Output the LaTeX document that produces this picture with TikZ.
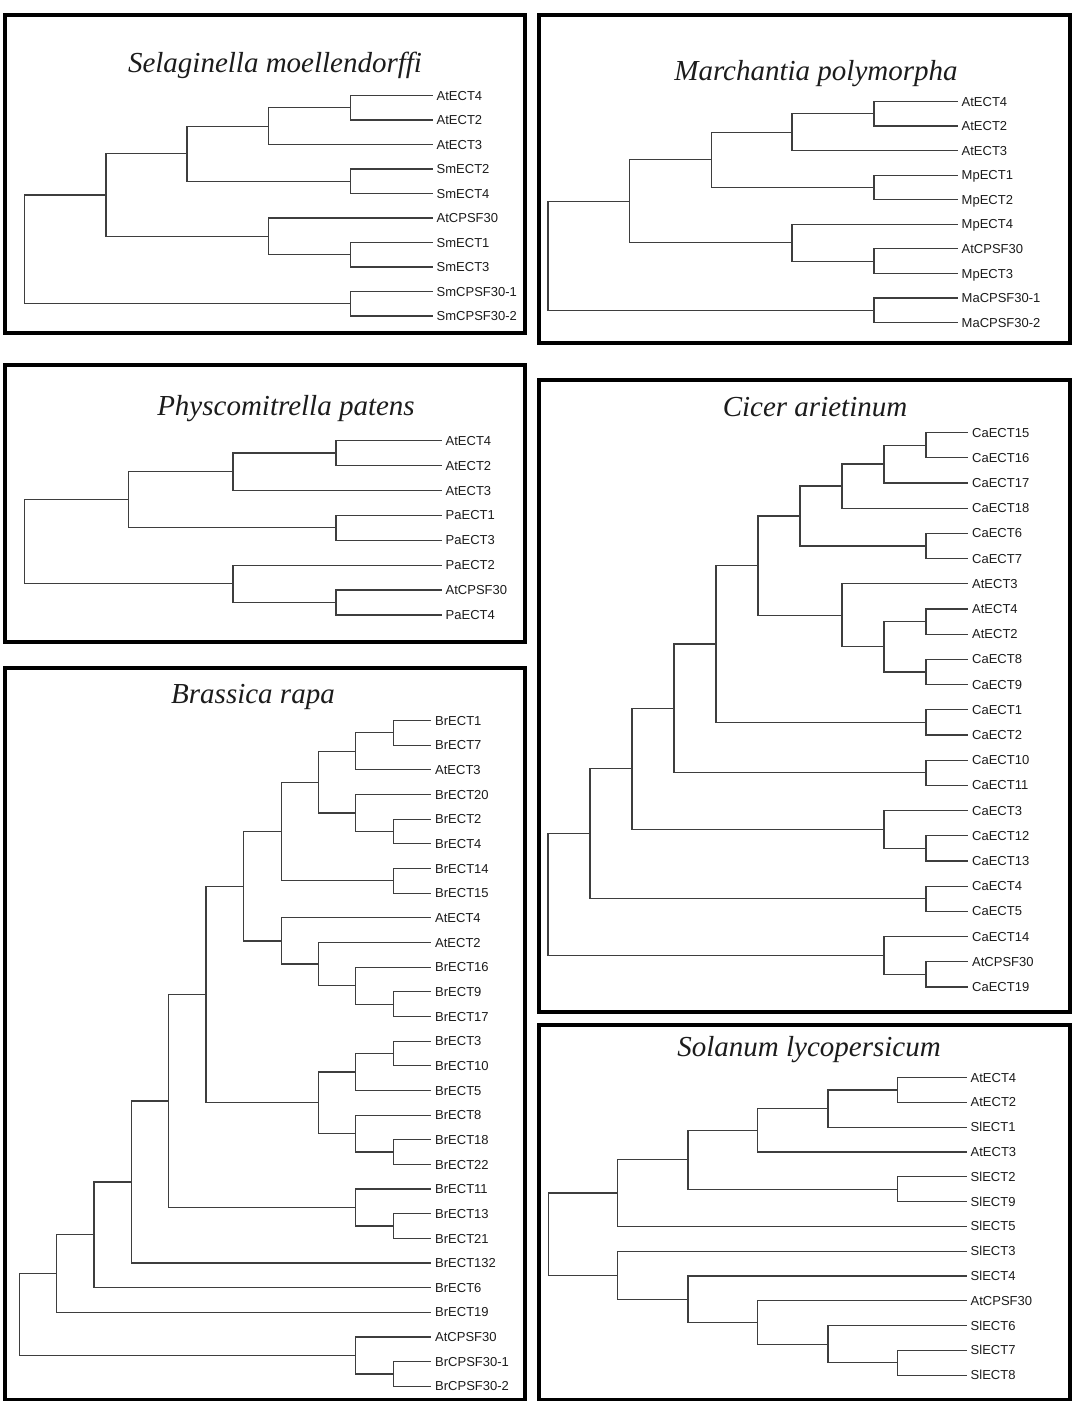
\documentclass[tikz,border=0pt]{standalone}
\usepackage{fontspec}
\usepackage{xcolor}
\usepackage{tikz}
\newfontfamily\labelfont{Liberation Sans}
\newfontfamily\speciesfont{Liberation Serif}
\definecolor{treegray}{RGB}{62, 62, 62}
\definecolor{textgray}{RGB}{28, 28, 28}
\tikzset{
  leaf/.style={anchor=west, inner xsep=4.5pt, inner ysep=0pt, text height=9.3pt, text depth=0pt, text=textgray, font=\labelfont\fontsize{13}{13}\selectfont},
  branch/.style={draw=treegray, line width=1.2pt, line cap=rect},
  panel/.style={draw=black, line width=3.6pt},
  species/.style={anchor=base, text=textgray, font=\speciesfont\itshape\fontsize{29}{29}\selectfont}
}

\begin{document}
\begin{tikzpicture}[x=1pt, y=-1pt]
    \useasboundingbox[fill=white] (0,0) rectangle (1080,1401);

    % Selaginella
    \draw[panel] (5,15) rectangle (525,333);
    \node[species] (smT) at (275,72) {Selaginella moellendorffi};
    \node[leaf] (sm1) at (432,95.5) {AtECT4};
    \node[leaf] (sm2) at (432,120) {AtECT2};
    \node[leaf] (sm3) at (432,144.5) {AtECT3};
    \node[leaf] (sm4) at (432,169) {SmECT2};
    \node[leaf] (sm5) at (432,193.5) {SmECT4};
    \node[leaf] (sm6) at (432,218) {AtCPSF30};
    \node[leaf] (sm7) at (432,242.5) {SmECT1};
    \node[leaf] (sm8) at (432,267) {SmECT3};
    \node[leaf] (sm9) at (432,291.5) {SmCPSF30-1};
    \node[leaf] (sm10) at (432,316) {SmCPSF30-2};
    \coordinate (smA) at (350.5,107.75);
    \coordinate (smB) at (268.5,126.1);
    \coordinate (smC) at (350.5,181.25);
    \coordinate (smD) at (187,153.7);
    \coordinate (smE) at (350.5,254.75);
    \coordinate (smF) at (268.5,236.4);
    \coordinate (smG) at (106,195.05);
    \coordinate (smH) at (350.5,303.75);
    \coordinate (smR) at (24.5,249.4);
    \draw[branch] (smA) |- (sm1.west) (smA) |- (sm2.west);
    \draw[branch] (smB) |- (smA) (smB) |- (sm3.west);
    \draw[branch] (smC) |- (sm4.west) (smC) |- (sm5.west);
    \draw[branch] (smD) |- (smB) (smD) |- (smC);
    \draw[branch] (smE) |- (sm7.west) (smE) |- (sm8.west);
    \draw[branch] (smF) |- (sm6.west) (smF) |- (smE);
    \draw[branch] (smG) |- (smD) (smG) |- (smF);
    \draw[branch] (smH) |- (sm9.west) (smH) |- (sm10.west);
    \draw[branch] (smR) |- (smG) (smR) |- (smH);

    % Marchantia
    \draw[panel] (539,15) rectangle (1070,343);
    \node[species] (mpT) at (816,80) {Marchantia polymorpha};
    \node[leaf] (mp1) at (957,101.5) {AtECT4};
    \node[leaf] (mp2) at (957,126) {AtECT2};
    \node[leaf] (mp3) at (957,150.6) {AtECT3};
    \node[leaf] (mp4) at (957,175.2) {MpECT1};
    \node[leaf] (mp5) at (957,199.7) {MpECT2};
    \node[leaf] (mp6) at (957,224.3) {MpECT4};
    \node[leaf] (mp7) at (957,248.8) {AtCPSF30};
    \node[leaf] (mp8) at (957,273.4) {MpECT3};
    \node[leaf] (mp9) at (957,297.9) {MaCPSF30-1};
    \node[leaf] (mp10) at (957,322.5) {MaCPSF30-2};
    \coordinate (mpA) at (874,113.75);
    \coordinate (mpB) at (792,132.2);
    \coordinate (mpC) at (874,187.45);
    \coordinate (mpD) at (711.5,159.8);
    \coordinate (mpE) at (874,261.1);
    \coordinate (mpF) at (792,242.7);
    \coordinate (mpG) at (629.5,201.25);
    \coordinate (mpH) at (874,310.2);
    \coordinate (mpR) at (548,255.7);
    \draw[branch] (mpA) |- (mp1.west) (mpA) |- (mp2.west);
    \draw[branch] (mpB) |- (mpA) (mpB) |- (mp3.west);
    \draw[branch] (mpC) |- (mp4.west) (mpC) |- (mp5.west);
    \draw[branch] (mpD) |- (mpB) (mpD) |- (mpC);
    \draw[branch] (mpE) |- (mp7.west) (mpE) |- (mp8.west);
    \draw[branch] (mpF) |- (mp6.west) (mpF) |- (mpE);
    \draw[branch] (mpG) |- (mpD) (mpG) |- (mpF);
    \draw[branch] (mpH) |- (mp9.west) (mpH) |- (mp10.west);
    \draw[branch] (mpR) |- (mpG) (mpR) |- (mpH);

    % Physcomitrella
    \draw[panel] (5,365) rectangle (525,642);
    \node[species] (ppT) at (286,415) {Physcomitrella patens};
    \node[leaf] (pp1) at (441,440.5) {AtECT4};
    \node[leaf] (pp2) at (441,465.4) {AtECT2};
    \node[leaf] (pp3) at (441,490.4) {AtECT3};
    \node[leaf] (pp4) at (441,515.3) {PaECT1};
    \node[leaf] (pp5) at (441,540.2) {PaECT3};
    \node[leaf] (pp6) at (441,565.1) {PaECT2};
    \node[leaf] (pp7) at (441,590) {AtCPSF30};
    \node[leaf] (pp8) at (441,615) {PaECT4};
    \coordinate (ppA) at (336,452.95);
    \coordinate (ppB) at (233,471.7);
    \coordinate (ppC) at (336,527.75);
    \coordinate (ppD) at (128.5,499.7);
    \coordinate (ppE) at (336,602.5);
    \coordinate (ppF) at (233,583.8);
    \coordinate (ppR) at (24.5,541.75);
    \draw[branch] (ppA) |- (pp1.west) (ppA) |- (pp2.west);
    \draw[branch] (ppB) |- (ppA) (ppB) |- (pp3.west);
    \draw[branch] (ppC) |- (pp4.west) (ppC) |- (pp5.west);
    \draw[branch] (ppD) |- (ppB) (ppD) |- (ppC);
    \draw[branch] (ppE) |- (pp7.west) (ppE) |- (pp8.west);
    \draw[branch] (ppF) |- (pp6.west) (ppF) |- (ppE);
    \draw[branch] (ppR) |- (ppD) (ppR) |- (ppF);

    % Cicer
    \draw[panel] (539,380) rectangle (1070,1012);
    \node[species] (caT) at (815,416.5) {Cicer arietinum};
    \node[leaf] (ca1) at (967.5,432.5) {CaECT15};
    \node[leaf] (ca2) at (967.5,457.7) {CaECT16};
    \node[leaf] (ca3) at (967.5,482.9) {CaECT17};
    \node[leaf] (ca4) at (967.5,508.1) {CaECT18};
    \node[leaf] (ca5) at (967.5,533.3) {CaECT6};
    \node[leaf] (ca6) at (967.5,558.5) {CaECT7};
    \node[leaf] (ca7) at (967.5,583.7) {AtECT3};
    \node[leaf] (ca8) at (967.5,608.9) {AtECT4};
    \node[leaf] (ca9) at (967.5,634.1) {AtECT2};
    \node[leaf] (ca10) at (967.5,659.3) {CaECT8};
    \node[leaf] (ca11) at (967.5,684.5) {CaECT9};
    \node[leaf] (ca12) at (967.5,709.7) {CaECT1};
    \node[leaf] (ca13) at (967.5,734.9) {CaECT2};
    \node[leaf] (ca14) at (967.5,760.1) {CaECT10};
    \node[leaf] (ca15) at (967.5,785.3) {CaECT11};
    \node[leaf] (ca16) at (967.5,810.5) {CaECT3};
    \node[leaf] (ca17) at (967.5,835.7) {CaECT12};
    \node[leaf] (ca18) at (967.5,860.9) {CaECT13};
    \node[leaf] (ca19) at (967.5,886.1) {CaECT4};
    \node[leaf] (ca20) at (967.5,911.3) {CaECT5};
    \node[leaf] (ca21) at (967.5,936.5) {CaECT14};
    \node[leaf] (ca22) at (967.5,961.7) {AtCPSF30};
    \node[leaf] (ca23) at (967.5,986.9) {CaECT19};
    \coordinate (caA) at (926,445.1);
    \coordinate (caB) at (884,464);
    \coordinate (caC) at (842,486.05);
    \coordinate (caD) at (926,545.9);
    \coordinate (caE) at (800,516);
    \coordinate (caF) at (926,621.5);
    \coordinate (caG) at (926,671.9);
    \coordinate (caH) at (884,646.7);
    \coordinate (caI) at (842,615.2);
    \coordinate (caJ) at (758,565.6);
    \coordinate (caK) at (926,722.3);
    \coordinate (caL) at (716,643.95);
    \coordinate (caM) at (926,772.7);
    \coordinate (caN) at (674,708.3);
    \coordinate (caO) at (926,848.3);
    \coordinate (caP) at (884,829.4);
    \coordinate (caQ) at (632,768.85);
    \coordinate (caS) at (926,898.7);
    \coordinate (caU) at (590,833.8);
    \coordinate (caV) at (926,974.3);
    \coordinate (caW) at (884,955.4);
    \coordinate (caR) at (548,894.6);
    \draw[branch] (caA) |- (ca1.west) (caA) |- (ca2.west);
    \draw[branch] (caB) |- (caA) (caB) |- (ca3.west);
    \draw[branch] (caC) |- (caB) (caC) |- (ca4.west);
    \draw[branch] (caD) |- (ca5.west) (caD) |- (ca6.west);
    \draw[branch] (caE) |- (caC) (caE) |- (caD);
    \draw[branch] (caF) |- (ca8.west) (caF) |- (ca9.west);
    \draw[branch] (caG) |- (ca10.west) (caG) |- (ca11.west);
    \draw[branch] (caH) |- (caF) (caH) |- (caG);
    \draw[branch] (caI) |- (ca7.west) (caI) |- (caH);
    \draw[branch] (caJ) |- (caE) (caJ) |- (caI);
    \draw[branch] (caK) |- (ca12.west) (caK) |- (ca13.west);
    \draw[branch] (caL) |- (caJ) (caL) |- (caK);
    \draw[branch] (caM) |- (ca14.west) (caM) |- (ca15.west);
    \draw[branch] (caN) |- (caL) (caN) |- (caM);
    \draw[branch] (caO) |- (ca17.west) (caO) |- (ca18.west);
    \draw[branch] (caP) |- (ca16.west) (caP) |- (caO);
    \draw[branch] (caQ) |- (caN) (caQ) |- (caP);
    \draw[branch] (caS) |- (ca19.west) (caS) |- (ca20.west);
    \draw[branch] (caU) |- (caQ) (caU) |- (caS);
    \draw[branch] (caV) |- (ca22.west) (caV) |- (ca23.west);
    \draw[branch] (caW) |- (ca21.west) (caW) |- (caV);
    \draw[branch] (caR) |- (caU) (caR) |- (caW);

    % Brassica
    \draw[panel] (5,668) rectangle (525,1400);
    \node[species] (brT) at (253,703) {Brassica rapa};
    \node[leaf] (br1) at (430.5,720.5) {BrECT1};
    \node[leaf] (br2) at (430.5,745.2) {BrECT7};
    \node[leaf] (br3) at (430.5,769.8) {AtECT3};
    \node[leaf] (br4) at (430.5,794.5) {BrECT20};
    \node[leaf] (br5) at (430.5,819.1) {BrECT2};
    \node[leaf] (br6) at (430.5,843.8) {BrECT4};
    \node[leaf] (br7) at (430.5,868.5) {BrECT14};
    \node[leaf] (br8) at (430.5,893.1) {BrECT15};
    \node[leaf] (br9) at (430.5,917.8) {AtECT4};
    \node[leaf] (br10) at (430.5,942.4) {AtECT2};
    \node[leaf] (br11) at (430.5,967.1) {BrECT16};
    \node[leaf] (br12) at (430.5,991.8) {BrECT9};
    \node[leaf] (br13) at (430.5,1016.4) {BrECT17};
    \node[leaf] (br14) at (430.5,1041.1) {BrECT3};
    \node[leaf] (br15) at (430.5,1065.7) {BrECT10};
    \node[leaf] (br16) at (430.5,1090.4) {BrECT5};
    \node[leaf] (br17) at (430.5,1115.1) {BrECT8};
    \node[leaf] (br18) at (430.5,1139.7) {BrECT18};
    \node[leaf] (br19) at (430.5,1164.4) {BrECT22};
    \node[leaf] (br20) at (430.5,1189) {BrECT11};
    \node[leaf] (br21) at (430.5,1213.7) {BrECT13};
    \node[leaf] (br22) at (430.5,1238.4) {BrECT21};
    \node[leaf] (br23) at (430.5,1263) {BrECT132};
    \node[leaf] (br24) at (430.5,1287.7) {BrECT6};
    \node[leaf] (br25) at (430.5,1312.3) {BrECT19};
    \node[leaf] (br26) at (430.5,1337) {AtCPSF30};
    \node[leaf] (br27) at (430.5,1361.7) {BrCPSF30-1};
    \node[leaf] (br28) at (430.5,1386.3) {BrCPSF30-2};
    \coordinate (brA) at (393.3,732.85);
    \coordinate (brB) at (355.7,751.3);
    \coordinate (brC) at (393.3,831.45);
    \coordinate (brD) at (355.7,812.98);
    \coordinate (brE) at (318.5,782.1);
    \coordinate (brF) at (393.3,880.8);
    \coordinate (brG) at (281.3,831.45);
    \coordinate (brH) at (393.3,1004.1);
    \coordinate (brI) at (355.7,985.6);
    \coordinate (brJ) at (318.5,964);
    \coordinate (brK) at (281.3,940.9);
    \coordinate (brL) at (243.8,886.2);
    \coordinate (brM) at (393.3,1053.4);
    \coordinate (brN) at (355.7,1071.9);
    \coordinate (brO) at (393.3,1152.05);
    \coordinate (brP) at (355.7,1133.6);
    \coordinate (brQ) at (318.5,1102.75);
    \coordinate (brS) at (206,994.5);
    \coordinate (brT2) at (393.3,1226.05);
    \coordinate (brU) at (355.7,1207.5);
    \coordinate (brV) at (168.7,1101);
    \coordinate (brW) at (131.5,1182);
    \coordinate (brX) at (94,1234.85);
    \coordinate (brY) at (56.8,1273.6);
    \coordinate (brZ) at (393.3,1374);
    \coordinate (brZZ) at (355.7,1355.5);
    \coordinate (brR) at (19.6,1314.55);
    \draw[branch] (brA) |- (br1.west) (brA) |- (br2.west);
    \draw[branch] (brB) |- (brA) (brB) |- (br3.west);
    \draw[branch] (brC) |- (br5.west) (brC) |- (br6.west);
    \draw[branch] (brD) |- (br4.west) (brD) |- (brC);
    \draw[branch] (brE) |- (brB) (brE) |- (brD);
    \draw[branch] (brF) |- (br7.west) (brF) |- (br8.west);
    \draw[branch] (brG) |- (brE) (brG) |- (brF);
    \draw[branch] (brH) |- (br12.west) (brH) |- (br13.west);
    \draw[branch] (brI) |- (br11.west) (brI) |- (brH);
    \draw[branch] (brJ) |- (br10.west) (brJ) |- (brI);
    \draw[branch] (brK) |- (br9.west) (brK) |- (brJ);
    \draw[branch] (brL) |- (brG) (brL) |- (brK);
    \draw[branch] (brM) |- (br14.west) (brM) |- (br15.west);
    \draw[branch] (brN) |- (brM) (brN) |- (br16.west);
    \draw[branch] (brO) |- (br18.west) (brO) |- (br19.west);
    \draw[branch] (brP) |- (br17.west) (brP) |- (brO);
    \draw[branch] (brQ) |- (brN) (brQ) |- (brP);
    \draw[branch] (brS) |- (brL) (brS) |- (brQ);
    \draw[branch] (brT2) |- (br21.west) (brT2) |- (br22.west);
    \draw[branch] (brU) |- (br20.west) (brU) |- (brT2);
    \draw[branch] (brV) |- (brS) (brV) |- (brU);
    \draw[branch] (brW) |- (brV) (brW) |- (br23.west);
    \draw[branch] (brX) |- (brW) (brX) |- (br24.west);
    \draw[branch] (brY) |- (brX) (brY) |- (br25.west);
    \draw[branch] (brZ) |- (br27.west) (brZ) |- (br28.west);
    \draw[branch] (brZZ) |- (br26.west) (brZZ) |- (brZ);
    \draw[branch] (brR) |- (brY) (brR) |- (brZZ);

    % Solanum
    \draw[panel] (539,1025) rectangle (1070,1400);
    \node[species] (slT) at (809,1056) {Solanum lycopersicum};
    \node[leaf] (sl1) at (966,1077.5) {AtECT4};
    \node[leaf] (sl2) at (966,1102.3) {AtECT2};
    \node[leaf] (sl3) at (966,1127.1) {SlECT1};
    \node[leaf] (sl4) at (966,1151.9) {AtECT3};
    \node[leaf] (sl5) at (966,1176.7) {SlECT2};
    \node[leaf] (sl6) at (966,1201.5) {SlECT9};
    \node[leaf] (sl7) at (966,1226.3) {SlECT5};
    \node[leaf] (sl8) at (966,1251.1) {SlECT3};
    \node[leaf] (sl9) at (966,1275.9) {SlECT4};
    \node[leaf] (sl10) at (966,1300.7) {AtCPSF30};
    \node[leaf] (sl11) at (966,1325.5) {SlECT6};
    \node[leaf] (sl12) at (966,1350.3) {SlECT7};
    \node[leaf] (sl13) at (966,1375.1) {SlECT8};
    \coordinate (slA) at (897.5,1089.9);
    \coordinate (slB) at (828,1108.5);
    \coordinate (slC) at (757.5,1130.2);
    \coordinate (slD) at (897.5,1189.1);
    \coordinate (slE) at (688,1159.65);
    \coordinate (slF) at (617.7,1192.98);
    \coordinate (slG) at (897.5,1362.7);
    \coordinate (slH) at (828,1344.1);
    \coordinate (slI) at (757.5,1322.4);
    \coordinate (slJ) at (688,1299.15);
    \coordinate (slK) at (617.7,1275.1);
    \coordinate (slR) at (548.2,1234.04);
    \draw[branch] (slA) |- (sl1.west) (slA) |- (sl2.west);
    \draw[branch] (slB) |- (slA) (slB) |- (sl3.west);
    \draw[branch] (slC) |- (slB) (slC) |- (sl4.west);
    \draw[branch] (slD) |- (sl5.west) (slD) |- (sl6.west);
    \draw[branch] (slE) |- (slC) (slE) |- (slD);
    \draw[branch] (slF) |- (slE) (slF) |- (sl7.west);
    \draw[branch] (slG) |- (sl12.west) (slG) |- (sl13.west);
    \draw[branch] (slH) |- (sl11.west) (slH) |- (slG);
    \draw[branch] (slI) |- (sl10.west) (slI) |- (slH);
    \draw[branch] (slJ) |- (sl9.west) (slJ) |- (slI);
    \draw[branch] (slK) |- (sl8.west) (slK) |- (slJ);
    \draw[branch] (slR) |- (slF) (slR) |- (slK);
\end{tikzpicture}
\end{document}
